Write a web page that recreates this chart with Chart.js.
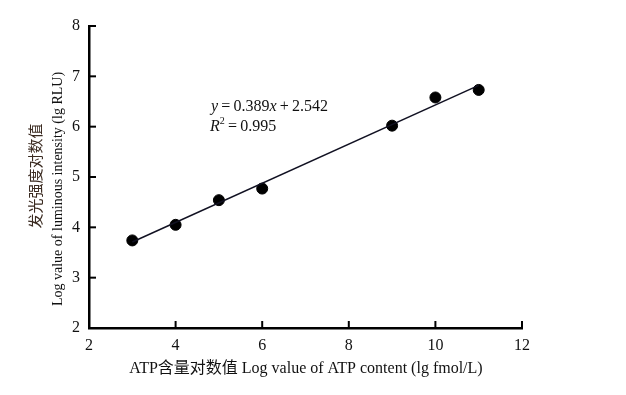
<!DOCTYPE html>
<html>
<head>
<meta charset="utf-8">
<script src="https://cdn.jsdelivr.net/npm/chart.js@4"></script>
<style>
  html, body { margin: 0; padding: 0; background: #fff; }
  #wrap { width: 626px; height: 395px; }
</style>
</head>
<body>
<div id="wrap"><canvas id="c" width="626" height="395"></canvas></div>
<script>
// dados
const atpLog = [3, 4, 5, 6, 9, 10, 11];
const rluLog = [3.74, 4.05, 4.54, 4.77, 6.02, 6.58, 6.73];
// reta de ajuste (extremos)
const fitX = [3, 11];
const fitY = [3.709, 6.821];
const xTicks = [2, 4, 6, 8, 10, 12];
const yTicks = [2, 3, 4, 5, 6, 7, 8];
const xTitle = 'ATP含量对数值 Log value of ATP content (lg fmol/L)';
const yTitleCn = '发光强度对数值';
const yTitleEn = 'Log value of luminous intensity (lg RLU)';

const serif = '"Liberation Serif", "Times New Roman", "Noto Sans CJK SC", serif';

// ticks para dentro + títulos + equação
const decor = {
  id: 'decor',
  afterDraw(chart) {
    const ctx = chart.ctx;
    const xs = chart.scales.x, ys = chart.scales.y;
    const a = chart.chartArea;
    ctx.save();
    ctx.strokeStyle = '#000';
    ctx.lineWidth = 2;
    xTicks.forEach(v => {
      const px = xs.getPixelForValue(v);
      ctx.beginPath(); ctx.moveTo(px, a.bottom); ctx.lineTo(px, a.bottom - 7); ctx.stroke();
    });
    yTicks.forEach(v => {
      const py = ys.getPixelForValue(v);
      ctx.beginPath(); ctx.moveTo(a.left, py); ctx.lineTo(a.left + 7, py); ctx.stroke();
    });

    ctx.fillStyle = '#111';
    ctx.font = '16px ' + serif;
    ctx.textAlign = 'center';
    ctx.textBaseline = 'middle';
    ctx.fillText(xTitle, 306, 369);

    ctx.save();
    ctx.translate(37, 176);
    ctx.rotate(-Math.PI / 2);
    ctx.fillStyle = '#3a2a20';
    ctx.font = '15px ' + serif;
    ctx.fillText(yTitleCn, 0, 0);
    ctx.restore();
    ctx.save();
    ctx.translate(58, 189);
    ctx.rotate(-Math.PI / 2);
    ctx.font = '14px ' + serif;
    ctx.fillText(yTitleEn, 0, 0);
    ctx.restore();

    // equação
    ctx.textAlign = 'left';
    ctx.textBaseline = 'alphabetic';
    const parts = [
      ['italic', 'y'], ['normal', '\u2009=\u20090.389'], ['italic', 'x'], ['normal', '\u2009+\u20092.542']
    ];
    let x = 211;
    parts.forEach(p => {
      ctx.font = p[0] + ' 16px ' + serif;
      ctx.fillText(p[1], x, 111);
      x += ctx.measureText(p[1]).width;
    });
    x = 210;
    ctx.font = 'italic 16px ' + serif;
    ctx.fillText('R', x, 131);
    x += ctx.measureText('R').width;
    ctx.font = '10px ' + serif;
    ctx.fillText('2', x, 124);
    x += ctx.measureText('2').width;
    ctx.font = '16px ' + serif;
    ctx.fillText('\u2009=\u20090.995', x, 131);
    ctx.restore();
  }
};

new Chart(document.getElementById('c'), {
  type: 'scatter',
  data: {
    datasets: [
      {
        label: 'fit',
        data: fitX.map((x, i) => ({ x: x, y: fitY[i] })),
        showLine: true,
        borderColor: '#111122',
        borderWidth: 1.5,
        pointRadius: 0,
        fill: false
      },
      {
        label: 'dados',
        data: atpLog.map((x, i) => ({ x: x, y: rluLog[i] })),
        backgroundColor: '#000',
        borderColor: '#000',
        pointRadius: 5.5,
        pointHoverRadius: 5.5
      }
    ]
  },
  plugins: [decor],
  options: {
    responsive: false,
    animation: false,
    layout: { padding: { left: 0, right: 104, top: 26, bottom: 0 } },
    plugins: { legend: { display: false }, tooltip: { enabled: false } },
    scales: {
      x: {
        type: 'linear',
        min: 2, max: 12,
        afterBuildTicks: s => { s.ticks = xTicks.map(v => ({ value: v })); },
        afterFit: s => { s.height = 67; },
        grid: { display: false, drawTicks: false },
        border: { display: true, color: '#000', width: 2.5 },
        ticks: { color: '#111', padding: 8, font: { family: serif, size: 16 } }
      },
      y: {
        type: 'linear',
        min: 2, max: 8,
        afterBuildTicks: s => { s.ticks = yTicks.map(v => ({ value: v })); },
        afterFit: s => { s.width = 89; },
        grid: { display: false, drawTicks: false },
        border: { display: true, color: '#000', width: 2.5 },
        ticks: { color: '#111', padding: 9, font: { family: serif, size: 16 } }
      }
    }
  }
});
</script>
</body>
</html>
